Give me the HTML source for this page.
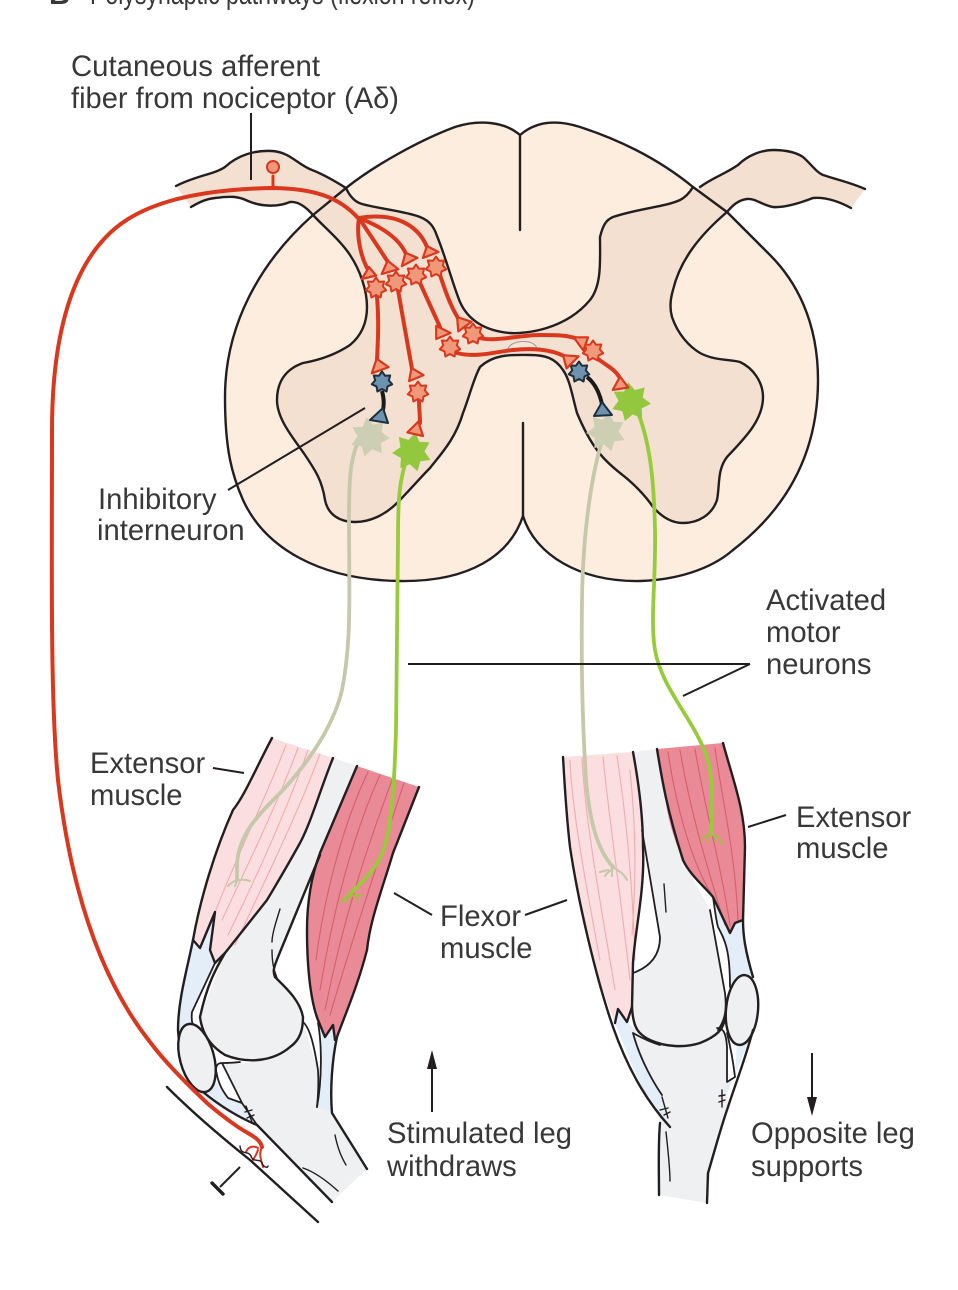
<!DOCTYPE html>
<html><head><meta charset="utf-8"><style>
html,body{margin:0;padding:0;background:#fff;width:958px;height:1290px;overflow:hidden}
svg{display:block}
text{font-family:"Liberation Sans",sans-serif;font-size:29.2px;fill:#383838}
.k{fill:none;stroke:#231f20;stroke-width:2.4;stroke-linecap:round;stroke-linejoin:round}
.t{fill:none;stroke:#231f20;stroke-width:1.4;stroke-linecap:round}
.l{fill:none;stroke:#231f20;stroke-width:2}
.r{fill:none;stroke:#d9381e;stroke-width:4;stroke-linecap:round;stroke-linejoin:round}
.tri{fill:#f0987a;stroke:#d9381e;stroke-width:2.2;stroke-linejoin:round}
.rs{fill:#f0987a;stroke:#d9381e;stroke-width:2;stroke-linejoin:round}
.bs{fill:#6d93ae;stroke:#1d2f3f;stroke-width:2;stroke-linejoin:round}
.gs{fill:#cdcfb5}
.ns{fill:#93c83e}
.gn{fill:none;stroke:#c5c8a9;stroke-width:3.8;stroke-linecap:round}
.nn{fill:none;stroke:#97cb3c;stroke-width:3.8;stroke-linecap:round}
.gt{fill:none;stroke:#c5c8a9;stroke-width:2;stroke-linecap:round}
.nt{fill:none;stroke:#a9b84c;stroke-width:2;stroke-linecap:round}
.mp{fill:none;stroke:#efabb0;stroke-width:1.1;stroke-linecap:round}
.md{fill:none;stroke:#d4606d;stroke-width:1.1;stroke-linecap:round}
</style></head><body>
<svg width="958" height="1290" viewBox="0 0 958 1290" xmlns="http://www.w3.org/2000/svg">
<defs>
<polygon id="s" points="0,-10.5 3,-6.3 8.2,-6.5 6.8,-1.6 10.2,2.3 5.5,4.4 4.6,9.5 0,7 -4.6,9.5 -5.5,4.4 -10.2,2.3 -6.8,-1.6 -8.2,-6.5 -3,-6.3"/>
<polygon id="b" points="0,-20 5.4,-11.3 15.6,-12.5 12.2,-2.8 19.5,4.5 9.8,7.8 8.7,18 0,12.5 -8.7,18 -9.8,7.8 -19.5,4.5 -12.2,-2.8 -15.6,-12.5 -5.4,-11.3"/>
</defs>

<text x="49" y="4" style="font-weight:bold">B</text>
<text x="90" y="4" textLength="385" lengthAdjust="spacingAndGlyphs">Polysynaptic pathways (flexion reflex)</text>

<!-- roots fill -->
<path d="M176,186 C195,176 215,174 225,167 C238,155 255,150 272,151 C290,152 298,165 312,170 C325,175 338,183 346,188 L360,210 L313,215 C306,207 298,201 290,202 C278,207 262,207 248,201 C238,196 230,196 215,198 C205,199 198,203 191,207Z" fill="#f3e0d0"/>
<path d="M700,187 C712,178 725,174 738,165 C748,155 762,150 773,150 C788,150 797,153 803,157 C812,165 816,172 823,175 C838,180 852,183 865,189 L851,208 C838,201 825,197 813,198 C800,203 785,208 773,207 C762,205 755,198 747,199 C738,200 732,206 727,212 L690,200Z" fill="#f3e0d0"/>

<!-- cord white -->
<path d="M520,135 C505,122 480,119 455,127 C420,140 375,165 346,188 L313,215 C260,262 225,325 225,397 C225,450 232,475 243,500 C265,548 320,580 400,581 C470,582 510,555 523,516 C535,555 580,582 640,581 C675,580 710,570 733,550 C785,510 818,455 818,380 C818,320 795,280 770,255 C750,235 735,220 727,212 L693,187 C660,160 620,140 580,127 C555,119 535,122 520,135Z" fill="#fdeddf"/>

<!-- gray matter -->
<path d="M346,188 C350,197 355,202 362,204 C380,209 405,211 420,217 C430,221 434,227 437,236 C445,255 453,285 460,302 C468,320 485,331 510,333 C525,334 565,330 590,300 C602,285 600,260 600,237 C603,225 606,220 613,217 C640,208 665,207 680,200 C686,197 690,192 693,187 L727,212 C700,235 680,260 673,290 C670,300 670,310 672,317 C678,335 690,347 700,353 C715,361 730,359 740,362 C753,368 763,382 763,397 C763,420 745,438 727,457 C717,470 720,485 717,500 C712,515 698,523 683,523 C670,523 660,515 653,507 C645,495 632,482 620,473 C610,465 602,457 597,450 C588,438 582,425 577,413 C572,395 570,380 563,370 C555,358 545,355 530,355 C515,355 495,353 480,367 C473,380 470,395 463,413 C455,440 440,455 430,468 C420,478 410,490 397,503 C385,515 370,522 355,522 C340,522 328,515 325,500 C322,480 315,470 305,455 C295,440 277,420 277,400 C277,385 283,370 303,363 C320,360 335,355 350,345 C362,335 367,322 367,307 C367,290 360,270 350,255 C340,240 325,228 313,215Z" fill="#f3e0d0"/>

<!-- gray outlines -->
<path class="k" d="M346,188 C350,197 355,202 362,204 C380,209 405,211 420,217 C430,221 434,227 437,236 C445,255 453,285 460,302 C468,320 485,331 510,333 C525,334 565,330 590,300 C602,285 600,260 600,237 C603,225 606,220 613,217 C640,208 665,207 680,200 C686,197 690,192 693,187"/>
<path class="k" d="M727,212 C700,235 680,260 673,290 C670,300 670,310 672,317 C678,335 690,347 700,353 C715,361 730,359 740,362 C753,368 763,382 763,397 C763,420 745,438 727,457 C717,470 720,485 717,500 C712,515 698,523 683,523 C670,523 660,515 653,507 C645,495 632,482 620,473 C610,465 602,457 597,450 C588,438 582,425 577,413 C572,395 570,380 563,370 C555,358 545,355 530,355 C515,355 495,353 480,367 C473,380 470,395 463,413 C455,440 440,455 430,468 C420,478 410,490 397,503 C385,515 370,522 355,522 C340,522 328,515 325,500 C322,480 315,470 305,455 C295,440 277,420 277,400 C277,385 283,370 303,363 C320,360 335,355 350,345 C362,335 367,322 367,307 C367,290 360,270 350,255 C340,240 325,228 313,215"/>
<path class="k" d="M520,135 C505,122 480,119 455,127 C420,140 375,165 346,188 L313,215 C260,262 225,325 225,397 C225,450 232,475 243,500 C265,548 320,580 400,581 C470,582 510,555 523,516 C535,555 580,582 640,581 C675,580 710,570 733,550 C785,510 818,455 818,380 C818,320 795,280 770,255 C750,235 735,220 727,212 L693,187 C660,160 620,140 580,127 C555,119 535,122 520,135Z"/>
<path class="k" d="M520,135V230M523,423V516"/>

<!-- root outlines -->
<path class="k" d="M176,186 C195,176 215,174 225,167 C238,155 255,150 272,151 C290,152 298,165 312,170 C325,175 338,183 346,188"/>
<path class="k" d="M191,207 C198,203 205,199 215,198 C230,196 238,196 248,201 C262,207 278,207 290,202 C298,201 306,207 313,215"/>
<path class="k" d="M700,187 C712,178 725,174 738,165 C748,155 762,150 773,150 C788,150 797,153 803,157 C812,165 816,172 823,175 C838,180 852,183 865,189"/>
<path class="k" d="M851,208 C838,201 825,197 813,198 C800,203 785,208 773,207 C762,205 755,198 747,199 C738,200 732,206 727,212"/>

<!-- small canal -->
<path d="M508,349 C510,340 535,338 537,349" fill="#f6e6d8" stroke="#999" stroke-width="1"/>

<!-- LEFT LEG fills -->
<path d="M333,758 L357,766 L320,853 L278,957 C274,965 275,972 275,977 C285,985 297,992 303,1017 C303,1030 300,1040 290,1047 C275,1060 250,1065 225,1055 C217,1050 203,1040 200,1017 L225,953Z" fill="#eef0f2"/>
<path d="M303,1022 L318,1070 L317,1107 L332,1113 L367,1169 L332,1202 L257,1125 L242,1103 L222,1063 C245,1066 290,1060 303,1022Z" fill="#eef0f2"/>
<path d="M193,940 L200,948 L215,912 L210,950 L215,963 L192,1012 L193,1028 L178,1030 C178,1000 185,965 193,940Z" fill="#e3eef8"/>
<path d="M190,1088 C215,1108 240,1117 257,1125 L242,1103 L228,1098 L218,1083 L205,1085Z" fill="#e3eef8"/>
<path d="M318,1023 L325,1037 L333,1025 L335,1040 C331,1065 330,1090 332,1113 L317,1107 C322,1075 322,1050 318,1023Z" fill="#e3eef8"/>
<path d="M272,738 L333,758 C320,790 312,820 300,843 C285,870 270,895 267,900 L225,953 L215,963 L210,950 L215,912 L200,948 L193,940 C197,910 205,870 233,810Z" fill="#fbdfe0"/>
<path d="M357,766 L419,787 L393,853 C382,890 370,920 367,950 C358,985 345,1015 337,1037 L335,1040 L333,1025 L325,1037 L318,1020 C312,1005 307,975 307,930 C307,905 315,870 320,853Z" fill="#e98a96"/>

<g class="mp">
<path d="M286,745 C265,800 235,860 216,910M298,748 C275,810 245,870 222,920M308,750 C285,815 255,880 228,935M320,754 C295,820 265,880 235,945"/>
</g>
<g class="md">
<path d="M368,772 C345,820 325,890 316,960M380,775 C355,830 335,900 320,990M392,780 C370,840 345,910 325,1010M404,783 C385,840 355,930 330,1015"/>
</g>
<!-- left leg outlines -->
<path class="k" d="M272,738 C255,770 245,795 233,810 C215,850 200,900 193,940 C187,970 178,1000 178,1030 C180,1060 190,1085 203,1092 C225,1110 245,1120 257,1125 L332,1202"/>
<path class="k" d="M333,758 C320,790 312,820 300,843 C285,870 270,895 267,900 L225,953 L215,963 L210,950 L215,912 L200,948 L193,940"/>
<path class="k" d="M225,953 C215,970 207,985 200,1017 C203,1040 217,1050 225,1055 C250,1065 275,1060 290,1047 C300,1040 303,1030 303,1017 C300,1000 285,987 275,977 C272,970 275,965 278,957 L320,855"/>
<path class="k" style="stroke-width:1.8" d="M215,963 L192,1012 C191,1020 192,1025 195,1030"/>
<path class="k" d="M357,766 L320,853 C310,880 307,905 307,930 C307,975 312,1005 318,1020 L325,1037 L333,1025 L335,1040"/>
<path class="k" d="M419,787 L393,853 C382,890 370,920 367,950 C358,985 345,1015 337,1037 C332,1060 330,1090 332,1113 L367,1169"/>
<path class="k" style="stroke-width:1.8" d="M303,1022 C310,1028 314,1045 318,1070 C319,1085 318,1097 317,1107"/>
<path class="k" style="stroke-width:1.8" d="M318,1023 C322,1045 322,1080 317,1107"/>
<path class="t" d="M280,909 C275,925 272,935 272,942 M272,950 C272,960 273,968 277,978"/>
<path class="k" style="stroke-width:1.8" d="M222,1063 L242,1103 L228,1098 C222,1090 218,1083 216,1070 C216,1065 218,1063 222,1063 C228,1063 232,1063 240,1062"/>
<path class="k" style="stroke-width:1.8" d="M242,1103 L257,1125"/>
<ellipse cx="197" cy="1058" rx="17" ry="35" transform="rotate(-15 197 1058)" fill="#eef0f2" stroke="#231f20" stroke-width="2.4"/>
<path class="t" d="M246,1106 L252,1122 M245,1112 L252,1110 M247,1118 L254,1115"/>
<path class="t" d="M335,1135 C338,1150 342,1158 346,1165 M303,1168 C315,1172 328,1182 338,1191"/>

<!-- RIGHT LEG fills -->
<path d="M633,752 L657,749 C662,780 667,810 683,860 L710,910 L725,993 C727,1010 725,1020 718,1030 L633,1033 L632,1007 L633,973 C655,965 660,950 660,937 L642,830Z" fill="#eef0f2"/>
<path d="M633,1033 L660,1123 L659,1195 L707,1203 L710,1173 L728,1107 L727,1082 L727,1047 L725,1030 L700,1030Z" fill="#eef0f2"/>
<path d="M563,757 L633,752 C640,790 645,820 643,847 C645,890 635,930 633,963 L632,1007 L627,1022 L618,1009 L615,1023 C590,960 575,900 570,847Z" fill="#fbdfe0"/>
<path d="M615,1023 L618,1009 L627,1022 L635,1030 C640,1060 655,1080 662,1095 L670,1127 C645,1105 630,1060 615,1023Z" fill="#e3eef8"/>
<path d="M657,749 L723,743 C733,780 745,810 745,847 L743,920 L735,923 L730,933 L713,897 C695,880 677,860 667,810Z" fill="#e98a96"/>
<path d="M713,897 L730,933 L735,923 L743,920 C743,935 745,950 753,977 L730,987 C730,950 725,940 718,927Z" fill="#e3eef8"/>
<path d="M737,1040 L753,1030 L740,1063 L727,1093 L723,1092 L727,1082 L735,1077Z" fill="#e3eef8"/>
<g class="mp">
<path d="M570,760 C572,810 585,880 600,960M582,758 C585,820 600,900 615,990M603,757 C608,810 620,890 630,980M617,756 C625,810 632,870 635,960M630,770 C635,820 637,870 632,935"/>
</g>
<g class="md">
<path d="M668,752 C675,800 690,860 712,895M680,750 C690,810 705,860 725,925M695,749 C705,810 720,860 730,925M715,748 C722,800 735,850 738,920"/>
</g>
<!-- right leg outlines -->
<path class="k" d="M563,757 C566,810 568,830 570,847 C578,900 595,975 613,1027 C630,1075 650,1105 670,1127"/>
<path class="k" d="M633,752 C640,790 643,820 643,847 C645,890 635,930 633,963 L632,1007 L627,1022 L618,1009 L615,1023"/>
<path class="k" style="stroke-width:1.8" d="M642,830 L660,937 C660,950 655,965 633,973"/>
<path class="k" d="M657,749 C662,780 667,810 683,860 C690,875 703,885 713,897 L730,933 L735,923 L743,920 L745,847 C745,810 733,780 723,743"/>
<path class="k" style="stroke-width:1.8" d="M713,897 C715,910 716,920 718,927 C725,940 730,950 730,987"/>
<path class="k" style="stroke-width:1.8" d="M710,910 L725,993 C727,1010 725,1020 718,1030"/>
<path class="k" d="M743,920 C743,935 745,950 753,977"/>
<path class="k" d="M632,1007 C633,1030 640,1035 650,1040 C665,1047 685,1048 700,1043 C715,1037 725,1030 725,1015"/>
<path class="k" style="stroke-width:1.8" d="M633,1033 C640,1060 655,1085 662,1095 M633,1033 C640,1037 650,1042 660,1045"/>
<path class="k" style="stroke-width:1.8" d="M717,1028 C723,1028 726,1032 727,1047 L727,1082 L735,1077 C733,1060 730,1045 727,1033"/>
<ellipse cx="742" cy="1010" rx="16" ry="35" transform="rotate(5 742 1010)" fill="#eef0f2" stroke="#231f20" stroke-width="2.4"/>
<path class="k" d="M753,1030 C745,1060 735,1085 728,1107 C720,1130 712,1160 708,1173 L707,1203"/>
<path class="k" d="M660,1123 C658,1145 659,1170 659,1195"/>
<path class="t" d="M662,1097 L668,1118 M660,1110 L668,1108 M664,1115 L670,1112 M722,1090 L722,1107 M719,1096 L725,1095 M719,1102 L725,1100"/>
<path class="t" d="M666,1132 C668,1150 670,1170 670,1181"/>
<path class="t" d="M664,884 L666,912"/>

<!-- nerve fibers -->
<path class="gn" d="M358,442 C350,460 349,480 349,520 C349,590 352,640 342,690 C335,720 315,755 283,790 C262,812 240,830 237,863 L237,880"/>
<path class="gt" d="M228,886 C232,882 236,880 238,880 C243,879 247,880 250,881 M237,880 L235,886"/>
<path class="nn" d="M408,455 C399,480 398,500 398,540 L396,730 C395,760 394,790 390,820 C386,855 375,870 357,887 L345,899"/>
<path class="nt" d="M341,902 C345,897 352,895 362,895 M348,896 L347,902 M356,895 L358,901"/>
<path class="gn" d="M604,435 C592,470 583,530 582,600 C581,680 583,730 586,780 C590,825 598,850 613,867"/>
<path class="gt" d="M605,876 C608,871 613,870 613,867 C618,871 624,873 627,880 M600,872 L608,870 M612,868 L612,876"/>
<path class="nn" d="M636,408 C650,440 654,480 655,530 C656,580 650,620 655,650 C662,690 695,720 708,760 C714,785 712,810 711,833"/>
<path class="nt" d="M701,840 C703,836 708,835 711,835 C716,835 721,837 722,845 M708,836 L708,842 M715,836 L715,841"/>

<!-- leaders -->
<g class="l">
<path d="M251,113V180M365,408L228,490M408,664H750M683,696L750,664"/>
<path d="M213,768L244,773M394,893L432,915M525,915L567,900M748,827L786,815"/>
<path d="M432,1112V1060M812,1053V1105M240,1167L220,1187"/>
</g>
<path d="M212,1183L223,1194" stroke="#231f20" stroke-width="3.4" stroke-linecap="round"/>
<path d="M432,1050L427,1069H437Z M812,1116L807,1097H817Z" fill="#231f20"/>
<path class="k" d="M167,1087 C195,1115 225,1140 250,1160 L318,1222"/>

<!-- red main -->
<path class="r" d="M262,1147 C260,1138 250,1135 238,1127 C225,1118 215,1110 207,1103 C185,1082 165,1062 150,1042 C105,985 72,900 58,780 C50,700 52,560 52,430 C52,340 70,275 105,238 C135,205 190,190 270,188 C315,188 340,198 358,218"/>
<path class="r" style="stroke-width:3" d="M273,186V176"/>
<circle cx="273" cy="167" r="6" fill="#f0987a" stroke="#d9381e" stroke-width="2"/>
<path class="r" style="stroke-width:2" d="M262,1147 C258,1155 262,1162 263,1167 M258,1148 C253,1145 248,1147 246,1152 M258,1150 C256,1156 254,1158 253,1160"/>
<path class="t" d="M240,1146 C241,1156 248,1150 251,1156 C253,1163 260,1158 262,1163 C264,1168 268,1168 268,1166"/>

<g class="r">
<path d="M359,218 C357,230 358,250 367,268"/>
<path d="M359,218 L388,262"/>
<path d="M359,218 C385,228 400,240 406,254"/>
<path d="M359,218 C395,212 418,225 427,247"/>
<path d="M377,297 C379,320 378,340 377,360"/>
<path d="M398,290 L412,369"/>
<path d="M419,400 C419,408 420,415 420,423"/>
<path d="M420,283 L440,327"/>
<path d="M440,275 C445,290 450,305 458,318"/>
<path d="M480,338 C495,342 520,335 540,335 C555,335 565,335 575,338"/>
<path d="M457,353 C475,358 495,352 513,350 C530,348 550,349 564,356"/>
<path d="M597,358 C605,365 614,368 620,378"/>
</g>
<path d="M382,391 C384,398 384,405 383,410" fill="none" stroke="#1a1a1a" stroke-width="4"/>
<path d="M587,377 C596,384 600,395 602,404" fill="none" stroke="#1a1a1a" stroke-width="4"/>

<!-- cells -->
<use href="#b" transform="translate(370,437) rotate(-10)" class="gs"/>
<use href="#b" transform="translate(606,432) rotate(10)" class="gs"/>
<use href="#b" transform="translate(412,452) rotate(10)" class="ns"/>
<use href="#b" transform="translate(631,402) rotate(-8)" class="ns"/>
<g class="rs">
<use href="#s" transform="translate(376,288)"/><use href="#s" transform="translate(396,282)"/>
<use href="#s" transform="translate(416,275)"/><use href="#s" transform="translate(436,267)"/>
<use href="#s" transform="translate(473,334)"/><use href="#s" transform="translate(450,347)"/>
<use href="#s" transform="translate(418,392)"/><use href="#s" transform="translate(593,351)"/>
</g>
<g class="bs">
<use href="#s" transform="translate(382,382)"/><use href="#s" transform="translate(579,372)"/>
</g>
<g class="tri">
<path d="M361.8,279.1L376.2,275.5L369,267.1Z"/><path d="M381.7,274L398.4,269.2L387.6,260.6Z"/>
<path d="M401.9,266.2L417.5,257.8L405.5,252.8Z"/><path d="M422.9,258L438.5,252L426.9,246Z"/>
<path d="M457.1,317L471.5,321.8L458.3,331.4Z"/><path d="M436.2,325.9L450.6,333L436.2,339Z"/>
<path d="M376.6,358.7L388.6,367.1L371.8,373.3Z"/><path d="M411.5,367.9L423.5,375.1L409.1,381.1Z"/>
<path d="M418.3,421.6L423,436L407.4,432.4Z"/><path d="M573.7,337.3L588.1,337.3L583.3,350.5Z"/>
<path d="M563,355.2L578.6,356.4L566.6,368.4Z"/><path d="M620,376.7L628.4,387.5L612.8,389.9Z"/>
</g>
<path d="M383,408L388,423L370,420Z M602,402L612,415L594,416Z" fill="#6d93ae" stroke="#1d2f3f" stroke-width="2" stroke-linejoin="round"/>

<!-- labels -->
<text x="71" y="76" textLength="249" lengthAdjust="spacingAndGlyphs">Cutaneous afferent</text>
<text x="71" y="108" textLength="328" lengthAdjust="spacingAndGlyphs">fiber from nociceptor (Aδ)</text>
<text x="98" y="509">Inhibitory</text>
<text x="97" y="540">interneuron</text>
<text x="766" y="610">Activated</text>
<text x="766" y="642">motor</text>
<text x="766" y="674">neurons</text>
<text x="90" y="773">Extensor</text>
<text x="90" y="805">muscle</text>
<text x="440" y="926">Flexor</text>
<text x="440" y="958">muscle</text>
<text x="796" y="827">Extensor</text>
<text x="796" y="858">muscle</text>
<text x="387" y="1143">Stimulated leg</text>
<text x="387" y="1176">withdraws</text>
<text x="751" y="1143">Opposite leg</text>
<text x="751" y="1176">supports</text>
</svg>
</body></html>
